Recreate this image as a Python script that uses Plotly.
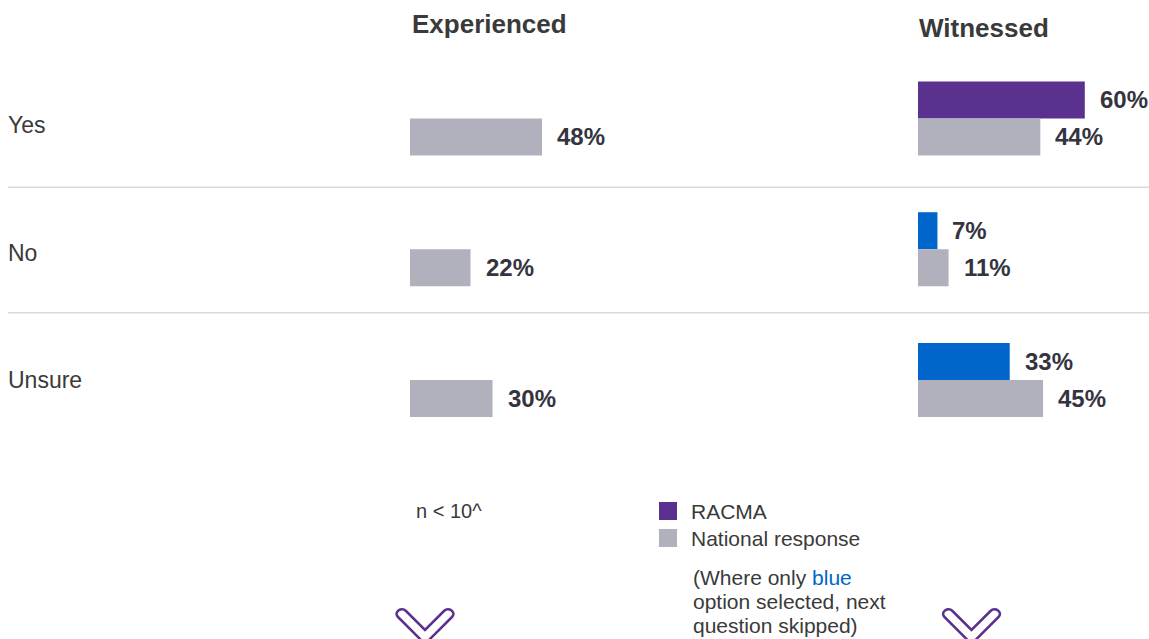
import plotly.graph_objects as go

# ---- data -------------------------------------------------------------
categories = ["Yes", "No", "Unsure"]
experienced_racma = [None, None, None]      # suppressed: n < 10
experienced_national = [48, 22, 30]
witnessed_racma = [60, 7, 33]
witnessed_national = [44, 11, 45]
panel_titles = ["Experienced", "Witnessed"]
legend_labels = ["RACMA", "National response"]

# ---- styling ------------------------------------------------------------
W, H = 1149, 639
FONT = "Liberation Sans, Arial, Helvetica, sans-serif"
PURPLE = "#5a318e"
BLUE = "#0066cc"
GREY = "#b1b1bd"
DARK = "#34343e"
TEXT = "#3a3a3a"
racma_colors = [PURPLE, BLUE, BLUE]   # blue = option that skips the next question
BAR_W = 0.283
LABEL_SHIFTS = [-7, -4, 0]            # vertical nudge for row labels (px)


def px(x, y):
    """pixel position -> paper coordinates string for SVG paths"""
    return f"{x / W:.5f},{1 - y / H:.5f}"


def ypaper(y):
    return 1 - y / H


fig = go.Figure()

# Experienced panel (national only)
fig.add_trace(go.Bar(y=categories, x=experienced_racma, orientation="h",
                     xaxis="x", yaxis="y", width=BAR_W, offset=-BAR_W,
                     marker=dict(color=PURPLE, line=dict(width=0)),
                     showlegend=False, hoverinfo="skip"))
fig.add_trace(go.Bar(y=categories, x=experienced_national, orientation="h",
                     xaxis="x", yaxis="y", width=BAR_W, offset=0,
                     marker=dict(color=GREY, line=dict(width=0)),
                     showlegend=False, hoverinfo="skip"))

# Witnessed panel
fig.add_trace(go.Bar(y=categories, x=witnessed_racma, orientation="h",
                     xaxis="x2", yaxis="y", width=BAR_W, offset=-BAR_W,
                     marker=dict(color=racma_colors, line=dict(width=0)),
                     showlegend=False, hoverinfo="skip"))
fig.add_trace(go.Bar(y=categories, x=witnessed_national, orientation="h",
                     xaxis="x2", yaxis="y", width=BAR_W, offset=0,
                     marker=dict(color=GREY, line=dict(width=0)),
                     showlegend=False, hoverinfo="skip"))

annotations = []

# value labels
for xref, values, shift in [("x", experienced_racma, 18.5),
                            ("x", experienced_national, -18.5),
                            ("x2", witnessed_racma, 18.5),
                            ("x2", witnessed_national, -18.5)]:
    for cat, v in zip(categories, values):
        if v is None:
            continue
        annotations.append(dict(
            x=v, y=cat, xref=xref, yref="y", text=f"<b>{v}%</b>",
            xanchor="left", yanchor="middle", xshift=13, yshift=shift,
            showarrow=False, font=dict(family=FONT, size=24, color=DARK)))

# category labels
for cat, dy in zip(categories, LABEL_SHIFTS):
    annotations.append(dict(
        x=6 / W, y=cat, xref="paper", yref="y", text=cat,
        xanchor="left", yanchor="middle", yshift=dy, showarrow=False,
        font=dict(family=FONT, size=23, color=TEXT)))

# panel titles
for title, x0, y0 in [(panel_titles[0], 410, 24), (panel_titles[1], 917, 28)]:
    annotations.append(dict(
        x=x0 / W, y=ypaper(y0), xref="paper", yref="paper", text=f"<b>{title}</b>",
        xanchor="left", yanchor="middle", showarrow=False,
        font=dict(family=FONT, size=26, color=TEXT)))

# small-sample note
annotations.append(dict(
    x=414 / W, y=ypaper(511), xref="paper", yref="paper", text="n &lt; 10^",
    xanchor="left", yanchor="middle", showarrow=False,
    font=dict(family=FONT, size=20, color=TEXT)))

# legend text
for label, y0 in zip(legend_labels, [511, 538]):
    annotations.append(dict(
        x=689 / W, y=ypaper(y0), xref="paper", yref="paper", text=label,
        xanchor="left", yanchor="middle", showarrow=False,
        font=dict(family=FONT, size=21, color=TEXT)))

# footnote on blue options
note_lines = ["(Where only <span style='color:%s'>blue</span>" % BLUE,
              "option selected, next",
              "question skipped)"]
for line, y0 in zip(note_lines, [577, 601, 625]):
    annotations.append(dict(
        x=691 / W, y=ypaper(y0), xref="paper", yref="paper", text=line,
        xanchor="left", yanchor="middle", showarrow=False,
        font=dict(family=FONT, size=21, color=TEXT)))

shapes = []
# row separators
for yv in [0.526, 1.485]:
    shapes.append(dict(type="line", xref="paper", yref="y",
                       x0=8 / W, x1=1, y0=yv, y1=yv,
                       line=dict(color="#dadada", width=1.5)))

# legend swatches
for color, y0 in [(PURPLE, 502), (GREY, 529)]:
    shapes.append(dict(type="rect", xref="paper", yref="paper",
                       x0=659 / W, x1=677 / W, y0=ypaper(y0 + 18), y1=ypaper(y0),
                       fillcolor=color, line=dict(width=0)))


# outlined chevrons under each panel
def chevron(cx):
    d = (f"M {px(cx - 27, 617)} L {px(cx, 644)} L {px(cx + 27, 617)} "
         f"C {px(cx + 31.7, 612.3)} {px(cx + 23.7, 606.3)} {px(cx + 19, 611)} "
         f"L {px(cx, 630)} L {px(cx - 19, 611)} "
         f"C {px(cx - 23.7, 606.3)} {px(cx - 31.7, 612.3)} {px(cx - 27, 617)} Z")
    return dict(type="path", xref="paper", yref="paper", path=d,
                line=dict(color=PURPLE, width=2.5), fillcolor="rgba(0,0,0,0)")


shapes.append(chevron(425))
shapes.append(chevron(971.5))

fig.update_layout(
    width=W, height=H,
    margin=dict(l=0, r=0, t=0, b=0),
    paper_bgcolor="white", plot_bgcolor="white",
    barmode="overlay",
    xaxis=dict(domain=[410 / W, 685 / W], range=[0, 100], visible=False,
               anchor="y", fixedrange=True),
    xaxis2=dict(domain=[918 / W, 1.0], range=[0, 83.1], visible=False,
                anchor="y", fixedrange=True),
    yaxis=dict(domain=[0, 1], type="category", categoryorder="array",
               categoryarray=categories, range=[3.981, -0.906],
               visible=False, anchor="x", fixedrange=True),
    annotations=annotations,
    shapes=shapes,
    showlegend=False,
)

fig.write_html("out.html")
